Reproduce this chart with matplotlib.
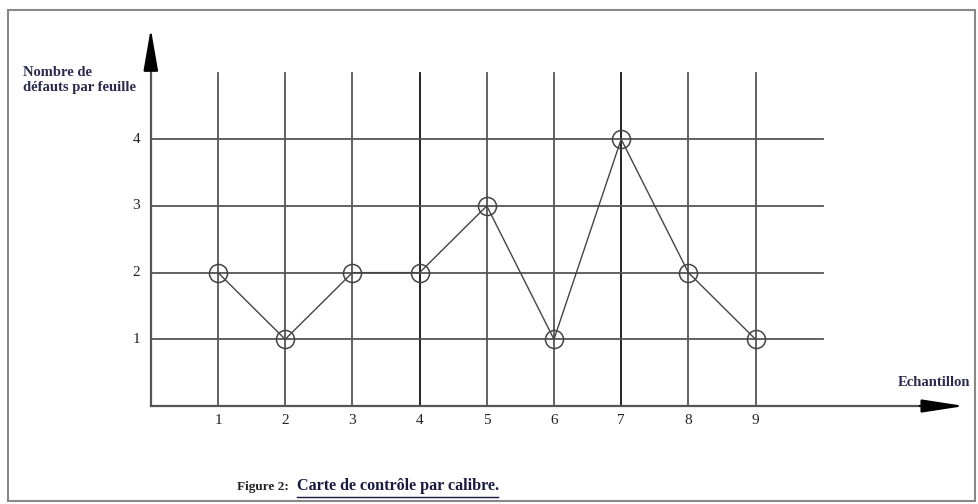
import matplotlib
matplotlib.use("Agg")
import matplotlib.pyplot as plt
from matplotlib.patches import Rectangle

plt.rcParams['font.family'] = ['Liberation Serif', 'DejaVu Serif']

# données de la carte
echantillons = [1, 2, 3, 4, 5, 6, 7, 8, 9]
defauts = [2, 1, 2, 2, 3, 1, 4, 2, 1]
y_ticks = [1, 2, 3, 4]

fig = plt.figure(figsize=(9.79, 5.04), dpi=100)
ax = fig.add_axes([0, 0, 1, 1])
ax.set_xlim(-2.244, 12.325)
ax.set_ylim(-1.469, 6.087)
ax.axis('off')

# cadre
fig.patches.append(Rectangle((8 / 979, 0.005), 967 / 979, 0.975, transform=fig.transFigure,
                             fill=False, edgecolor='#888888', lw=1.5))

# grille
for x in echantillons:
    c = '#111111' if x in (4, 7) else '#555555'
    ax.plot([x, x], [0, 5], color=c, lw=1.3)
for y in y_ticks:
    ax.plot([0, 10], [y, y], color='#555555', lw=1.3)

# axes avec flèches
ax.plot([0, 11.5], [0, 0], color='#555555', lw=1.6)
ax.plot([0, 0], [0, 5.2], color='#555555', lw=1.6)
ax.annotate('', xy=(12.15, 0), xytext=(11.4, 0),
            arrowprops=dict(arrowstyle='-|>,head_length=2.6,head_width=0.4', color='black', lw=1.5))
ax.annotate('', xy=(0, 5.7), xytext=(0, 5.0),
            arrowprops=dict(arrowstyle='-|>,head_length=2.6,head_width=0.45', color='black', lw=1.5))

# courbe
ax.plot(echantillons, defauts, color='#444444', lw=1, marker='o', markersize=13,
        markerfacecolor='none', markeredgecolor='#444444', markeredgewidth=1.1)

# étiquettes
for x in echantillons:
    ax.text(x, -0.12, str(x), ha='center', va='top', fontsize=11, color='#222222')
for y in y_ticks:
    ax.text(-0.16, y, str(y), ha='right', va='center', fontsize=11, color='#222222')

fig.text(23 / 979, 1 - 80 / 504, 'Nombre de\ndéfauts par feuille', fontsize=10.5,
         fontweight='bold', color='#2a2a50', va='center', ha='left', linespacing=1.15)
fig.text(970 / 979, 1 - 383 / 504, 'Echantillon', fontsize=10.5, fontweight='bold',
         color='#2a2a50', ha='right', va='center')

fig.text(237 / 979, 1 - 487 / 504, 'Figure 2:', fontsize=9.5, fontweight='bold',
         color='#222222', ha='left', va='center')
fig.text(297 / 979, 1 - 486 / 504, 'Carte de contrôle par calibre.', fontsize=11.6,
         fontweight='bold', color='#1a1a40', ha='left', va='center')
ax.plot([297 / 979, 498 / 979], [1 - 497 / 504, 1 - 497 / 504], transform=fig.transFigure,
        color='#1a1a40', lw=1)

fig.savefig('out.png', dpi=100)
